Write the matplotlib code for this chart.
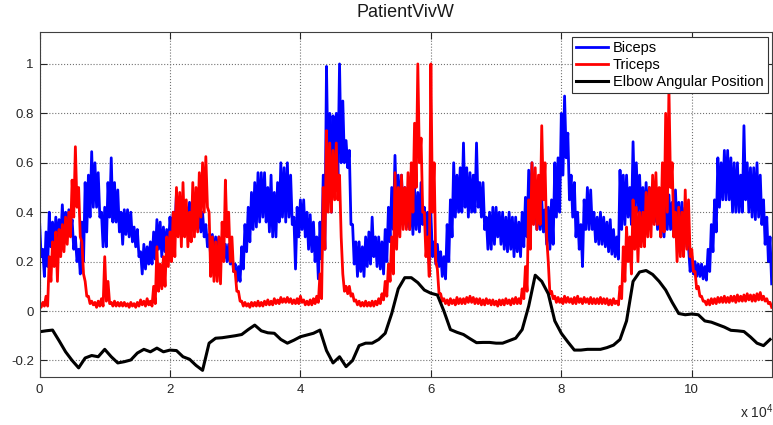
import numpy as np
import matplotlib
matplotlib.use('Agg')
import matplotlib.pyplot as plt
from matplotlib.ticker import FuncFormatter

# EMG read off the picture as upper / lower edge of the noisy trace,
# one pair every 500 samples (upper edge first, lower edge 250 samples later)
emg_step = 500
biceps_hi = [
    0.37, 0.25, 0.32, 0.40, 0.36, 0.38, 0.37, 0.43, 0.40, 0.41,
    0.37, 0.30, 0.25, 0.36, 0.52, 0.55, 0.645, 0.60, 0.56, 0.40,
    0.42, 0.52, 0.62, 0.52, 0.49, 0.40, 0.41, 0.41, 0.40, 0.34,
    0.33, 0.24, 0.27, 0.26, 0.28, 0.32, 0.37, 0.36, 0.34, 0.33,
    0.38, 0.40, 0.48, 0.46, 0.45, 0.42, 0.44, 0.42, 0.42, 0.40,
    0.40, 0.35, 0.31, 0.31, 0.30, 0.30, 0.29, 0.27, 0.27, 0.24,
    0.19, 0.18, 0.26, 0.35, 0.42, 0.48, 0.52, 0.56, 0.56, 0.56,
    0.50, 0.55, 0.48, 0.52, 0.60, 0.58, 0.60, 0.55, 0.38, 0.42,
    0.45, 0.45, 0.40, 0.39, 0.36, 0.30, 0.36, 0.55, 0.99, 0.80,
    0.79, 0.80, 1.00, 0.85, 0.69, 0.65, 0.35, 0.28, 0.28, 0.26,
    0.30, 0.32, 0.38, 0.30, 0.30, 0.28, 0.33, 0.42, 0.50, 0.63,
    0.55, 0.55, 0.50, 0.50, 0.48, 0.50, 0.48, 0.52, 0.42, 0.40,
    0.40, 0.28, 0.27, 0.24, 0.22, 0.35, 0.45, 0.60, 0.55, 0.58,
    0.68, 0.58, 0.56, 0.55, 0.68, 0.52, 0.52, 0.38, 0.40, 0.42,
    0.42, 0.40, 0.40, 0.38, 0.40, 0.38, 0.38, 0.36, 0.40, 0.46,
    0.57, 0.60, 0.50, 0.48, 0.45, 0.41, 0.42, 0.45, 0.60, 0.62,
    0.80, 0.87, 0.72, 0.55, 0.52, 0.40, 0.35, 0.45, 0.50, 0.49,
    0.40, 0.38, 0.40, 0.38, 0.36, 0.37, 0.33, 0.30, 0.57, 0.55,
    0.55, 0.50, 0.685, 0.60, 0.55, 0.50, 0.52, 0.50, 0.50, 0.48,
    0.46, 0.45, 0.48, 0.47, 0.44, 0.49, 0.44, 0.44, 0.42, 0.26,
    0.22, 0.20, 0.19, 0.19, 0.18, 0.25, 0.35, 0.45, 0.62, 0.60,
    0.65, 0.65, 0.62, 0.60, 0.60, 0.55, 0.75, 0.60, 0.58, 0.58,
    0.60, 0.55, 0.45, 0.38, 0.30,
]
biceps_lo = [
    0.22, 0.14, 0.18, 0.26, 0.26, 0.27, 0.28, 0.30, 0.31, 0.32,
    0.25, 0.20, 0.15, 0.20, 0.32, 0.38, 0.42, 0.42, 0.38, 0.26,
    0.26, 0.38, 0.36, 0.36, 0.32, 0.27, 0.31, 0.30, 0.28, 0.26,
    0.22, 0.15, 0.17, 0.19, 0.19, 0.21, 0.25, 0.22, 0.24, 0.24,
    0.30, 0.32, 0.36, 0.34, 0.34, 0.34, 0.35, 0.34, 0.33, 0.32,
    0.30, 0.26, 0.22, 0.22, 0.22, 0.22, 0.21, 0.20, 0.19, 0.16,
    0.12, 0.12, 0.17, 0.24, 0.28, 0.33, 0.34, 0.36, 0.38, 0.36,
    0.32, 0.30, 0.30, 0.36, 0.38, 0.36, 0.38, 0.35, 0.17, 0.30,
    0.33, 0.30, 0.25, 0.24, 0.20, 0.13, 0.21, 0.25, 0.55, 0.40,
    0.53, 0.55, 0.60, 0.60, 0.58, 0.35, 0.19, 0.14, 0.16, 0.14,
    0.18, 0.19, 0.22, 0.18, 0.17, 0.15, 0.20, 0.28, 0.33, 0.40,
    0.38, 0.35, 0.34, 0.33, 0.31, 0.33, 0.32, 0.35, 0.30, 0.19,
    0.22, 0.19, 0.18, 0.14, 0.13, 0.20, 0.30, 0.38, 0.40, 0.40,
    0.42, 0.38, 0.40, 0.40, 0.42, 0.38, 0.33, 0.25, 0.25, 0.27,
    0.30, 0.27, 0.25, 0.24, 0.25, 0.22, 0.24, 0.22, 0.26, 0.30,
    0.38, 0.38, 0.33, 0.33, 0.32, 0.27, 0.25, 0.27, 0.38, 0.40,
    0.55, 0.62, 0.45, 0.38, 0.30, 0.25, 0.18, 0.33, 0.33, 0.33,
    0.28, 0.27, 0.27, 0.26, 0.24, 0.23, 0.22, 0.21, 0.33, 0.35,
    0.38, 0.35, 0.42, 0.40, 0.38, 0.35, 0.36, 0.35, 0.36, 0.33,
    0.30, 0.30, 0.33, 0.33, 0.30, 0.32, 0.30, 0.30, 0.26, 0.16,
    0.15, 0.14, 0.14, 0.13, 0.125, 0.16, 0.24, 0.32, 0.42, 0.45,
    0.45, 0.45, 0.40, 0.40, 0.40, 0.40, 0.45, 0.40, 0.38, 0.37,
    0.38, 0.35, 0.27, 0.20, 0.11,
]
triceps_hi = [
    0.03, 0.035, 0.06, 0.22, 0.28, 0.32, 0.33, 0.35, 0.38, 0.40,
    0.53, 0.665, 0.50, 0.28, 0.12, 0.06, 0.04, 0.035, 0.04, 0.05,
    0.22, 0.12, 0.035, 0.04, 0.035, 0.035, 0.035, 0.03, 0.035, 0.03,
    0.035, 0.045, 0.04, 0.05, 0.04, 0.10, 0.26, 0.19, 0.22, 0.30,
    0.32, 0.40, 0.50, 0.48, 0.52, 0.45, 0.40, 0.52, 0.50, 0.56,
    0.60, 0.625, 0.40, 0.30, 0.28, 0.30, 0.36, 0.53, 0.40, 0.30,
    0.16, 0.08, 0.04, 0.035, 0.03, 0.035, 0.035, 0.04, 0.035, 0.04,
    0.045, 0.04, 0.05, 0.045, 0.055, 0.05, 0.055, 0.05, 0.045, 0.05,
    0.06, 0.045, 0.04, 0.045, 0.05, 0.06, 0.15, 0.50, 0.73, 0.68,
    0.65, 0.68, 0.55, 0.15, 0.10, 0.10, 0.07, 0.045, 0.04, 0.035,
    0.04, 0.035, 0.04, 0.04, 0.05, 0.07, 0.12, 0.19, 0.30, 0.56,
    0.50, 0.55, 0.50, 0.56, 0.60, 0.76, 1.00, 0.70, 0.40, 0.30,
    1.00, 0.60, 0.17, 0.07, 0.05, 0.045, 0.05, 0.045, 0.055, 0.05,
    0.05, 0.055, 0.06, 0.055, 0.05, 0.05, 0.045, 0.05, 0.045, 0.045,
    0.04, 0.045, 0.045, 0.05, 0.045, 0.05, 0.055, 0.05, 0.09, 0.18,
    0.45, 0.60, 0.58, 0.55, 0.75, 0.60, 0.20, 0.08, 0.06, 0.055,
    0.05, 0.06, 0.055, 0.05, 0.055, 0.06, 0.05, 0.055, 0.05, 0.055,
    0.05, 0.05, 0.055, 0.05, 0.05, 0.045, 0.05, 0.04, 0.10, 0.26,
    0.34, 0.30, 0.45, 0.42, 0.40, 0.40, 0.48, 0.50, 0.55, 0.56,
    0.50, 0.60, 0.80, 0.90, 0.60, 0.40, 0.42, 0.40, 0.49, 0.45,
    0.25, 0.16, 0.10, 0.06, 0.04, 0.045, 0.05, 0.05, 0.055, 0.055,
    0.06, 0.055, 0.06, 0.06, 0.065, 0.06, 0.065, 0.07, 0.065, 0.065,
    0.07, 0.075, 0.06, 0.05, 0.035,
]
triceps_lo = [
    0.015, 0.02, 0.02, 0.12, 0.18, 0.12, 0.22, 0.24, 0.27, 0.30,
    0.38, 0.42, 0.30, 0.15, 0.06, 0.03, 0.025, 0.015, 0.02, 0.02,
    0.04, 0.03, 0.02, 0.02, 0.02, 0.02, 0.02, 0.015, 0.02, 0.015,
    0.02, 0.025, 0.02, 0.025, 0.02, 0.03, 0.08, 0.09, 0.10, 0.18,
    0.20, 0.22, 0.30, 0.26, 0.30, 0.26, 0.28, 0.30, 0.32, 0.38,
    0.40, 0.42, 0.14, 0.12, 0.12, 0.11, 0.20, 0.30, 0.20, 0.16,
    0.08, 0.04, 0.02, 0.02, 0.015, 0.02, 0.02, 0.02, 0.02, 0.025,
    0.025, 0.025, 0.03, 0.03, 0.035, 0.035, 0.035, 0.03, 0.03, 0.03,
    0.035, 0.025, 0.025, 0.025, 0.03, 0.035, 0.05, 0.25, 0.40, 0.40,
    0.45, 0.45, 0.30, 0.08, 0.07, 0.06, 0.04, 0.025, 0.02, 0.02,
    0.02, 0.02, 0.02, 0.025, 0.03, 0.045, 0.06, 0.12, 0.15, 0.25,
    0.30, 0.33, 0.33, 0.33, 0.40, 0.50, 0.60, 0.40, 0.22, 0.14,
    0.40, 0.20, 0.07, 0.04, 0.03, 0.025, 0.03, 0.025, 0.03, 0.03,
    0.03, 0.035, 0.035, 0.03, 0.03, 0.025, 0.025, 0.03, 0.025, 0.025,
    0.02, 0.025, 0.025, 0.03, 0.025, 0.03, 0.03, 0.03, 0.05, 0.08,
    0.25, 0.35, 0.33, 0.35, 0.45, 0.30, 0.07, 0.05, 0.035, 0.035,
    0.03, 0.035, 0.035, 0.03, 0.03, 0.035, 0.03, 0.035, 0.03, 0.03,
    0.03, 0.03, 0.03, 0.03, 0.025, 0.025, 0.03, 0.025, 0.05, 0.12,
    0.20, 0.15, 0.25, 0.20, 0.26, 0.26, 0.30, 0.30, 0.35, 0.35,
    0.30, 0.32, 0.40, 0.50, 0.30, 0.20, 0.22, 0.22, 0.25, 0.22,
    0.16, 0.09, 0.06, 0.04, 0.025, 0.025, 0.03, 0.03, 0.035, 0.035,
    0.035, 0.035, 0.04, 0.035, 0.04, 0.04, 0.04, 0.045, 0.04, 0.04,
    0.045, 0.045, 0.04, 0.03, 0.015,
]

# elbow angle, one value every 1000 samples
elbow_step = 1000
elbow = [
    -0.084, -0.080, -0.077, -0.12, -0.165, -0.20, -0.23, -0.19, -0.18, -0.185,
    -0.155, -0.185, -0.21, -0.205, -0.198, -0.17, -0.155, -0.165, -0.15, -0.165,
    -0.158, -0.16, -0.185, -0.195, -0.22, -0.24, -0.13, -0.11, -0.108, -0.104,
    -0.10, -0.095, -0.075, -0.057, -0.08, -0.088, -0.09, -0.115, -0.13, -0.118,
    -0.104, -0.097, -0.09, -0.077, -0.16, -0.21, -0.185, -0.225, -0.20, -0.14,
    -0.13, -0.13, -0.115, -0.09, -0.01, 0.09, 0.135, 0.135, 0.115, 0.085,
    0.072, 0.065, 0.0, -0.075, -0.086, -0.095, -0.112, -0.128, -0.127, -0.127,
    -0.13, -0.13, -0.12, -0.11, -0.075, 0.02, 0.145, 0.12, 0.07, -0.04,
    -0.09, -0.125, -0.158, -0.158, -0.155, -0.155, -0.155, -0.148, -0.138, -0.115,
    -0.04, 0.12, 0.158, 0.164, 0.148, 0.12, 0.085, 0.035, -0.01, -0.015,
    -0.012, -0.015, -0.04, -0.045, -0.055, -0.065, -0.078, -0.08, -0.083, -0.105,
    -0.13, -0.14, -0.115,
]

plt.rcParams['font.family'] = ['Liberation Sans', 'DejaVu Sans']
plt.rcParams['mathtext.fontset'] = 'custom'
plt.rcParams['mathtext.rm'] = 'Liberation Sans'
plt.rcParams['mathtext.default'] = 'rm'


def trace(hi, lo):
    # upper edge, then lower edge half a step later
    sig = np.column_stack([hi, lo]).ravel()
    t = np.arange(len(sig)) * (emg_step / 2)
    return t, sig


t_b, biceps = trace(biceps_hi, biceps_lo)
t_t, triceps = trace(triceps_hi, triceps_lo)
t_elbow = np.arange(len(elbow)) * elbow_step

fig = plt.figure(figsize=(7.73, 4.25), dpi=100)
ax = fig.add_axes([0.0511, 0.1129, 0.9476, 0.8111])

ax.plot(t_b, biceps, color='#0000ff', lw=2.0, label='Biceps')
ax.plot(t_t, triceps, color='#ff0000', lw=2.0, label='Triceps')
ax.plot(t_elbow, elbow, color='black', lw=2.2, label='Elbow Angular Position')

ax.set_xlim(0, 112300)
ax.set_ylim(-0.267, 1.128)
ax.set_xticks([0, 20000, 40000, 60000, 80000, 100000])
ax.set_yticks([-0.2, 0, 0.2, 0.4, 0.6, 0.8, 1])
ax.xaxis.set_major_formatter(FuncFormatter(lambda v, p: '%g' % (v / 1e4)))
ax.yaxis.set_major_formatter(FuncFormatter(lambda v, p: '%g' % round(v, 1)))

ax.grid(True, linestyle=':', color='0.45', lw=0.8)
ax.tick_params(direction='in', length=5, top=True, right=True,
               labelsize=9.5, colors='0.15')
ax.tick_params(axis='x', pad=5)
ax.tick_params(axis='y', pad=4)
for s in ax.spines.values():
    s.set_color('0.25')
    s.set_linewidth(0.8)

ax.set_title('PatientVivW', fontsize=13, pad=11, color='0.1')
fig.text(740 / 773, 1 - 418 / 425, 'x 10$^{4}$', fontsize=10, color='0.15')

leg = ax.legend(loc='upper right', fontsize=10.5, fancybox=False,
                framealpha=1, edgecolor='0.2', borderpad=0.3,
                labelspacing=0.2, handlelength=2.2, handletextpad=0.3,
                borderaxespad=0.3)
leg.get_frame().set_linewidth(0.8)

fig.savefig('out.png', dpi=100)
